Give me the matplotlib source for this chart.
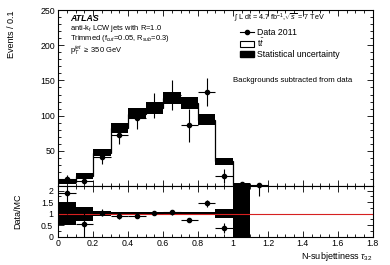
import numpy as np
import matplotlib
matplotlib.use("Agg")
import matplotlib.pyplot as plt
from matplotlib.lines import Line2D
from matplotlib.patches import Patch
from matplotlib.ticker import MultipleLocator, FuncFormatter

plt.rcParams["font.family"] = ["Liberation Sans", "DejaVu Sans"]
plt.rcParams["mathtext.fontset"] = "custom"
plt.rcParams["mathtext.rm"] = "Liberation Sans"
plt.rcParams["mathtext.it"] = "Liberation Sans:italic"
plt.rcParams["mathtext.bf"] = "Liberation Sans:bold"

# --- values ---
edges = np.round(np.arange(0.0, 1.21, 0.1), 2)
centers = edges[:-1] + 0.05
mc_ttbar = [6, 14, 47, 82, 103, 111, 125, 118, 94, 35, 1, 0]
mc_stat = [3, 4, 5, 7, 8, 8, 8.5, 8.5, 8, 5, 3, 0]
data_vals = [10, 7.5, 41, 72, 96, 114, 129, 86, 134, 14, 3, 1]
data_err = [5, 5, 9, 12, 15, 18, 21, 23, 20, 10, 3, 1]

ratio_vals = [1.9, 0.53, 1.03, 0.88, 0.91, 1.03, 1.05, 0.73, 1.45, 0.38, 2.25, 2.25]
ratio_err = [0.9, 0.55, 0.15, 0.12, 0.1, 0.1, 0.1, 0.1, 0.15, 0.2, 0.5, 0.5]
ratio_band = [0.5, 0.3, 0.11, 0.08, 0.08, 0.06, 0.06, 0.06, 0.06, 0.2, 3.0, 0.0]

fig = plt.figure(figsize=(3.9, 2.65), dpi=100)
ax = fig.add_axes([0.149, 0.298, 0.807, 0.664])
rax = fig.add_axes([0.149, 0.107, 0.807, 0.191], sharex=ax)

# main panel
mc = np.array(mc_ttbar, dtype=float)
st = np.array(mc_stat, dtype=float)
ax.stairs(mc, edges, color="black", lw=0.9)
ax.bar(edges[:-1], 2 * st, bottom=mc - st, width=0.1, align="edge",
       color="black", edgecolor="none")
ax.errorbar(centers, data_vals, yerr=data_err, xerr=0.05, fmt="o",
            color="black", ms=3, lw=0.8, capsize=0)

ax.set_xlim(0, 1.8)
ax.set_ylim(0, 250)
ax.set_ylabel("Events / 0.1", fontsize=6.5, loc="top")
ax.yaxis.set_major_locator(MultipleLocator(50))
ax.yaxis.set_minor_locator(MultipleLocator(10))
ax.yaxis.set_major_formatter(FuncFormatter(lambda v, p: "" if v == 0 else f"{v:g}"))
ax.xaxis.set_major_locator(MultipleLocator(0.2))
ax.xaxis.set_minor_locator(MultipleLocator(0.05))
ax.xaxis.set_major_formatter(FuncFormatter(lambda v, p: f"{v:g}"))
ax.tick_params(labelbottom=False)

ax.text(0.038, 0.978, "ATLAS", transform=ax.transAxes, fontsize=6.3,
        fontweight="bold", style="italic", va="top")
ax.text(0.038, 0.895, "anti-k$_{t}$ LCW jets with R=1.0", transform=ax.transAxes,
        fontsize=5.4, va="center")
ax.text(0.038, 0.838, "Trimmed (f$_{cut}$=0.05, R$_{sub}$=0.3)",
        transform=ax.transAxes, fontsize=5.4, va="center")
ax.text(0.038, 0.768, "p$_{T}^{jet}$ $\\geq$ 350 GeV", transform=ax.transAxes,
        fontsize=5.4, va="center")

ax.text(0.56, 0.955, "$\\int$ L dt = 4.7 fb$^{-1}$,$\\sqrt{s}$ = 7 TeV",
        transform=ax.transAxes, fontsize=5.2, va="center")
ax.text(0.556, 0.60, "Backgrounds subtracted from data", transform=ax.transAxes,
        fontsize=5.6, ha="left", va="center")

handles = [
    Line2D([], [], color="black", marker="o", ms=3, lw=0.8),
    Patch(facecolor="white", edgecolor="black", lw=0.8),
    Patch(facecolor="black", edgecolor="black"),
]
labels = ["Data 2011", "t$\\bar{t}$", "Statistical uncertainty"]
ax.legend(handles, labels, loc="upper left", bbox_to_anchor=(0.56, 0.93),
          frameon=False, fontsize=6.3, handlelength=1.6, handleheight=0.7,
          labelspacing=0.02, borderpad=0.1, handletextpad=0.4)

# ratio panel
rb = np.array(ratio_band)
rax.bar(edges[:-1], 2 * rb, bottom=1 - rb, width=0.1, align="edge",
        color="black", edgecolor="none")
rax.axhline(1.0, color="#d62020", lw=0.8)
rax.errorbar(centers, ratio_vals, yerr=ratio_err, xerr=0.05, fmt="o",
             color="black", ms=3, lw=0.8, capsize=0)
rax.set_ylim(0, 2.2)
rax.set_ylabel("Data/MC", fontsize=6.5)
rax.set_yticks([0, 0.5, 1, 1.5, 2])
rax.set_yticklabels(["0", "0.5", "1", "1.5", "2"])
rax.yaxis.set_minor_locator(MultipleLocator(0.25))
rax.set_xlabel("N-subjettiness $\\tau_{32}$", fontsize=6.5, loc="right", labelpad=1)

for a in (ax, rax):
    a.tick_params(which="both", direction="in", top=True, right=True,
                  labelsize=6.3, width=0.6, pad=2)
    a.tick_params(which="major", length=4)
    a.tick_params(which="minor", length=2)
    for s in a.spines.values():
        s.set_linewidth(0.8)
rax.tick_params(axis="y", pad=3.5)

ax.yaxis.set_label_coords(-0.135, 1.0)
rax.yaxis.set_label_coords(-0.115, 0.5)

fig.savefig("out.png", dpi=100)
